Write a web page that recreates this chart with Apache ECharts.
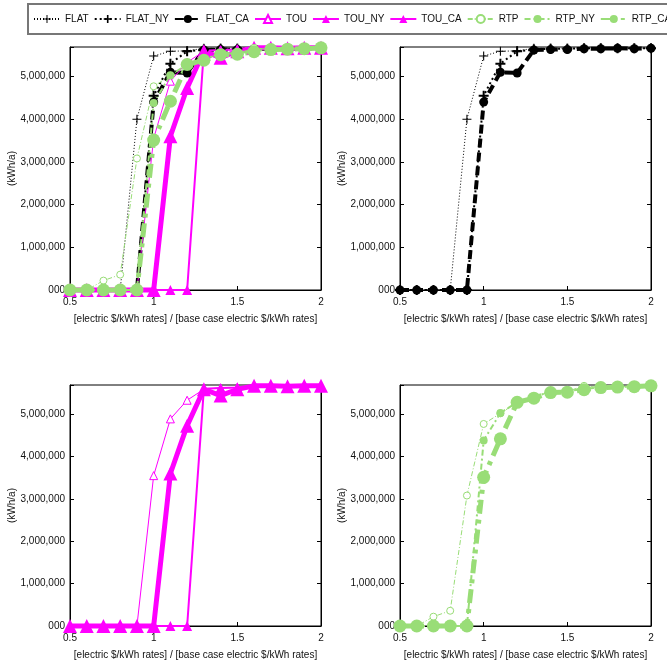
<!DOCTYPE html>
<html><head><meta charset="utf-8">
<script src="https://cdn.jsdelivr.net/npm/echarts@6/dist/echarts.min.js"></script>
<style>html,body{margin:0;padding:0;background:#fff}#c{width:667px;height:667px}</style>
</head><body><div id="c"></div>
<script>
const xValues = [0.5,0.6,0.7,0.8,0.9,1.0,1.1,1.2,1.3,1.4,1.5,1.6,1.7,1.8,1.9,2.0];
const seriesNames = ['FLAT','FLAT_NY','FLAT_CA','TOU','TOU_NY','TOU_CA','RTP','RTP_NY','RTP_CA'];
const FLAT    = [0,0,0,0,4000000,5480000,5590000,5600000,5660000,5660000,5660000,5660000,5660000,5660000,5660000,5660000];
const FLAT_NY = [0,0,0,0,0,4550000,5300000,5590000,5630000,5650000,5650000,5660000,5660000,5660000,5660000,5660000];
const FLAT_CA = [0,0,0,0,0,4400000,5100000,5080000,5620000,5630000,5630000,5650000,5650000,5660000,5650000,5660000];
const TOU     = [0,0,0,0,0,3550000,4890000,5330000,5590000,5620000,5630000,5640000,5650000,5650000,5650000,5660000];
const TOU_NY  = [0,0,0,0,0,0,0,0,5600000,5620000,5630000,5650000,5650000,5660000,5660000,5660000];
const TOU_CA  = [0,0,0,0,0,0,3600000,4730000,5590000,5440000,5590000,5670000,5670000,5660000,5670000,5670000];
const RTP     = [0,0,220000,360000,3080000,4770000,5020000,5280000,5400000,5540000,5540000,5670000,5630000,5660000,5640000,5670000];
const RTP_NY  = [0,0,0,0,0,4380000,5030000,5280000,5400000,5540000,5540000,5600000,5630000,5650000,5650000,5670000];
const RTP_CA  = [0,0,0,0,0,3510000,4420000,5280000,5380000,5510000,5520000,5580000,5630000,5640000,5650000,5670000];
const yTickValues = [0,1000000,2000000,3000000,4000000,5000000];
const yTickLabels = ['000','1,000,000','2,000,000','3,000,000','4,000,000','5,000,000'];
const xTickValues = [0.5,1,1.5,2];
const xTickLabels = ['0.5','1','1.5','2'];
const xName = '[electric $/kWh rates] / [base case electric $/kWh rates]';
const yName = '(kWh/a)';

const FONT = 'Liberation Sans, Arial, sans-serif';
const BLACK = '#000000', MAG = '#ff00ff', GRN = '#99dd77';
const plusThin = 'path://M4.4,0h1.2v4.4h4.4v1.2h-4.4v4.4h-1.2v-4.4h-4.4v-1.2h4.4z';
const plusBold = 'path://M4,0h2v4h4v2h-4v4h-2v-4h-4v-2h4z';

const styles = {
  FLAT:    {color: BLACK, width: 1, type: [1,2], symbol: plusThin, size: 9, fill: BLACK},
  FLAT_NY: {color: BLACK, width: 2, type: [2,3], symbol: plusBold, size: 10, fill: BLACK},
  FLAT_CA: {color: BLACK, width: 4, type: [9,5], symbol: 'circle', size: 9, fill: BLACK},
  TOU:     {color: MAG, width: 1, type: 'solid', symbol: 'triangle', size: 8, fill: '#ffffff', border: 1},
  TOU_NY:  {color: MAG, width: 2, type: 'solid', symbol: 'triangle', size: 10, fill: MAG},
  TOU_CA:  {color: MAG, width: 5, type: 'solid', symbol: 'triangle', size: 14, fill: MAG},
  RTP:     {color: GRN, width: 1, type: [5,2,1,2], symbol: 'circle', size: 7, fill: '#ffffff', border: 1},
  RTP_NY:  {color: GRN, width: 2, type: [6,3,2,3], symbol: 'circle', size: 8, fill: GRN},
  RTP_CA:  {color: GRN, width: 5, type: [14,6,4,6], symbol: 'circle', size: 13, fill: GRN}
};
const dataMap = {FLAT, FLAT_NY, FLAT_CA, TOU, TOU_NY, TOU_CA, RTP, RTP_NY, RTP_CA};

const grids = [
  {left: 70, top: 47, width: 251, height: 243},
  {left: 400, top: 47, width: 251, height: 243},
  {left: 70, top: 385, width: 251, height: 241},
  {left: 400, top: 385, width: 251, height: 241}
];
const panelSeries = [
  seriesNames,
  ['FLAT','FLAT_NY','FLAT_CA'],
  ['TOU','TOU_NY','TOU_CA'],
  ['RTP','RTP_NY','RTP_CA']
];

const textStyle = {fontFamily: FONT, fontSize: 10, color: '#111'};
const xAxes = [], yAxes = [], series = [];
grids.forEach((g, i) => {
  g.show = true; g.borderColor = '#000'; g.borderWidth = 1; g.backgroundColor = '#fff';
  xAxes.push({
    type: 'value', gridIndex: i, min: 0.5, max: 2, interval: 0.5,
    name: xName, nameLocation: 'middle', nameGap: 24, nameMoveOverlap: false,
    nameTextStyle: textStyle,
    axisLine: {show: true, lineStyle: {color: '#000', width: 1}},
    axisTick: {show: true, inside: true, length: 4, lineStyle: {color: '#000'}},
    axisLabel: Object.assign({margin: 7, formatter: v => {
      const k = xTickValues.findIndex(t => Math.abs(t - v) < 1e-9);
      return k >= 0 ? xTickLabels[k] : '';
    }}, textStyle),
    splitLine: {show: false}
  });
  yAxes.push({
    type: 'value', gridIndex: i, min: 0, max: 5690000, interval: 1000000,
    name: yName, nameLocation: 'middle', nameGap: 53, nameRotate: 90, nameMoveOverlap: false,
    nameTextStyle: textStyle,
    axisLine: {show: true, lineStyle: {color: '#000', width: 1}},
    axisTick: {show: true, inside: true, length: 4, lineStyle: {color: '#000'}},
    axisLabel: Object.assign({margin: 5, formatter: v => {
      const k = yTickValues.indexOf(v);
      return k >= 0 ? yTickLabels[k] : '';
    }}, textStyle),
    splitLine: {show: false}
  });
  yAxes.push({
    type: 'value', gridIndex: i, position: 'right', min: 0, max: 5690000, interval: 1000000,
    axisLine: {show: true, lineStyle: {color: '#000', width: 1}},
    axisTick: {show: true, inside: true, length: 4, lineStyle: {color: '#000'}},
    axisLabel: {show: false}, splitLine: {show: false}
  });
  panelSeries[i].forEach(name => {
    const s = styles[name];
    series.push({
      name: name, type: 'line', xAxisIndex: i, yAxisIndex: i * 2,
      data: xValues.map((x, j) => [x, dataMap[name][j]]),
      symbol: s.symbol, symbolSize: s.size, showAllSymbol: true,
      lineStyle: {color: s.color, width: s.width, type: s.type},
      itemStyle: {color: s.fill, borderColor: s.color, borderWidth: s.border || 0},
      emphasis: {disabled: true}, animation: false, clip: false
    });
  });
});

const chart = echarts.init(document.getElementById('c'), null, {renderer: 'canvas'});
chart.setOption({
  backgroundColor: '#fff',
  animation: false,
  textStyle: {fontFamily: FONT},
  legend: {
    data: seriesNames, left: 28, top: 4, width: 900, orient: 'horizontal',
    itemWidth: 26, itemHeight: 10, itemGap: 5, padding: [10, 5],
    borderColor: '#777', borderWidth: 2,
    textStyle: textStyle
  },
  grid: grids, xAxis: xAxes, yAxis: yAxes, series: series
});
</script></body></html>
